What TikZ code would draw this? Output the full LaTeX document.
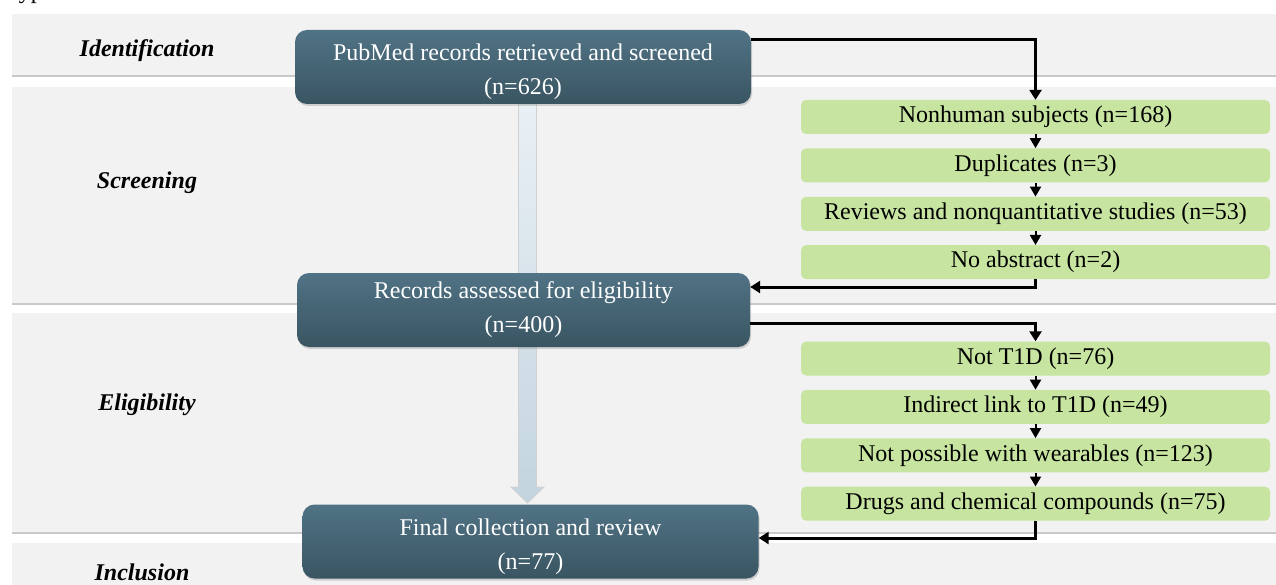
\documentclass[tikz,border=0pt]{standalone}
\usepackage{fontspec}
\setmainfont{Liberation Serif}
\usetikzlibrary{positioning, arrows.meta, shadows}
\definecolor{bandgray}{RGB}{242,242,242}
\definecolor{slatetop}{RGB}{80,115,133}
\definecolor{slatebot}{RGB}{58,85,98}
\definecolor{leafgreen}{RGB}{199,229,160}
\definecolor{arrowtop}{RGB}{233,240,245}
\definecolor{arrowbot}{RGB}{195,212,223}
\newcommand{\boxlift}{\rule{0pt}{27pt}}

\begin{document}
\begin{tikzpicture}[x=1pt, y=-1pt,
     node distance = 14pt and 14pt,
       band/.style = {fill=bandgray, drop shadow={shadow xshift=0pt, shadow yshift=-2pt, opacity=.35, fill=black!60}},
      phase/.style = {font=\fontsize{24}{30}\selectfont\bfseries\itshape},
       dbox/.style = {rectangle, rounded corners=12pt, top color=slatetop, bottom color=slatebot,
                      text=white, align=center, minimum width=456pt, minimum height=74pt, inner sep=0pt,
                      font=\fontsize{24}{34}\selectfont, drop shadow={shadow xshift=1pt, shadow yshift=-2pt, opacity=.3}},
       gbox/.style = {rectangle, rounded corners=5pt, fill=leafgreen, minimum width=469pt,
                      minimum height=34pt, inner sep=0pt, font=\fontsize{24}{28}\selectfont},
   bigarrow/.style = {top color=arrowtop, bottom color=arrowbot, draw=black!18, line width=0.8pt},
       flow/.style = {line width=3pt, -{Triangle[width=12pt,length=10pt]}},
       link/.style = {line width=2pt, -{Triangle[width=11pt,length=10pt]}}
                        ]
\useasboundingbox (0,0) rectangle (1276,585);
\clip (0,0) rectangle (1276,585);
\fill[white] (0,0) rectangle (1276,585);

% phase bands
\fill[band] (12,14) rectangle (1300,75);
\fill[band] (12,87) rectangle (1300,303);
\fill[band] (12,313) rectangle (1300,532);
\fill[band] (12,543) rectangle (1300,620);

\node[anchor=base west, inner sep=0pt, font=\fontsize{24}{28}\selectfont] (caption) at (12,-1) {type 1 diabetes.};

% main stream
\coordinate (shafttop) at (527.5,104);
\coordinate (tip) at (527.5,503);
\path[bigarrow] ([xshift=-9pt]shafttop) -- ([xshift=-9pt,yshift=16pt]tip) -- ([xshift=-16.5pt,yshift=16pt]tip)
   -- (tip) -- ([xshift=16.5pt,yshift=16pt]tip) -- ([xshift=9pt,yshift=16pt]tip) -- ([xshift=9pt]shafttop) -- cycle;

\node[dbox] (pub) at (523,67) {\boxlift PubMed records retrieved and screened\\(n=626)};
\node[dbox, minimum width=453pt] (rec) at (523.5,310) {Records assessed for eligibility\\(n=400)};
\node[dbox] (fin) at (530.5,541.5) {\boxlift Final collection and review\\(n=77)};

% exclusions
\node[gbox] (nh) at (1035.5,117) {Nonhuman subjects (n=168)};
\node[gbox, below=of nh] (dup) {Duplicates (n=3)};
\node[gbox, below=of dup] (rev) {Reviews and nonquantitative studies (n=53)};
\node[gbox, below=of rev] (noabs) {No abstract (n=2)};

\node[gbox] (nt1d) at (1035.5,358.5) {Not T1D (n=76)};
\node[gbox, below=of nt1d] (ind) {Indirect link to T1D (n=49)};
\node[gbox, below=of ind] (wear) {Not possible with wearables (n=123)};
\node[gbox, below=of wear] (drugs) {Drugs and chemical compounds (n=75)};

\foreach \a/\b in {nh/dup, dup/rev, rev/noabs, nt1d/ind, ind/wear, wear/drugs}
  \draw[link] (\a) -- (\b);

\draw[flow] ([yshift=27pt]pub.east) -| (nh.north);
\draw[flow] (noabs.south) |- ([yshift=23pt]rec.east);
\draw[flow] ([yshift=-13pt]rec.east) -| (nt1d.north);
\draw[flow] (drugs.south) |- ([yshift=3.5pt]fin.east);

% phase labels
\node[phase] (idlab) at (147,51) {Identification};
\node[phase] (scrlab) at (147,183) {Screening};
\node[phase] (elilab) at (147,405) {Eligibility};
\node[phase] (inclab) at (142,572) {Inclusion};
\end{tikzpicture}
\end{document}
